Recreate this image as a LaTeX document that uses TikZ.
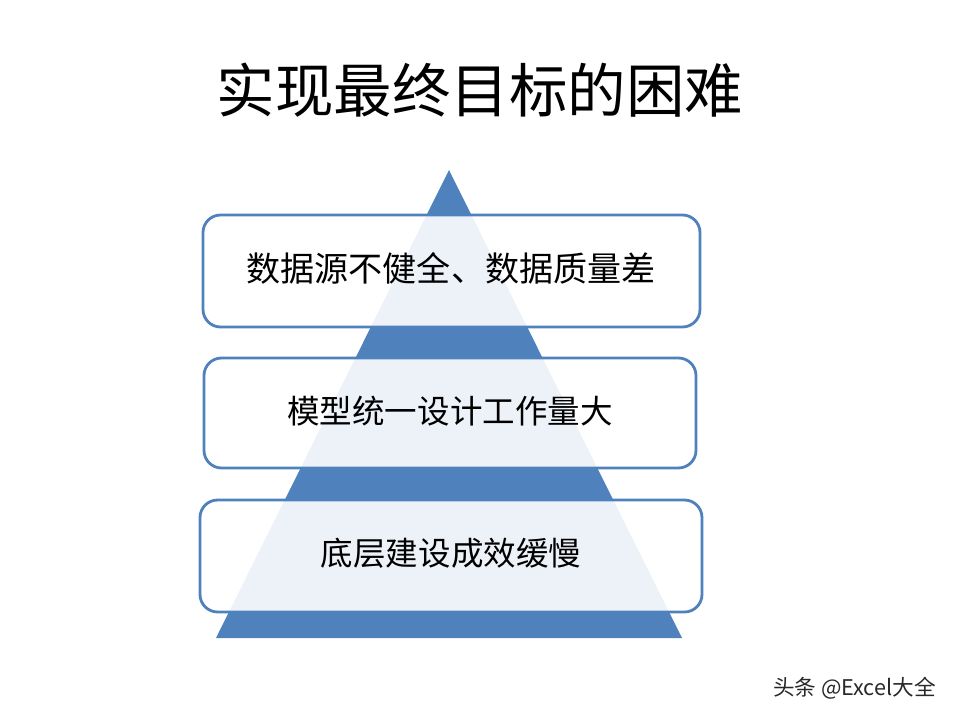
\documentclass[tikz,border=0pt]{standalone}
\usepackage{fontspec}
\newfontfamily\cjk{Noto Sans CJK SC}
\definecolor{pyblue}{RGB}{79,129,189}
\definecolor{wmgray}{RGB}{40,40,40}
\begin{document}
\begin{tikzpicture}[x=0.02cm,y=-0.02cm,
  layerbox/.style={draw=pyblue,line width=1.6pt,rounded corners=10pt,fill=white,fill opacity=0.9,text opacity=1},
  layertext/.style={font=\cjk\fontsize{18.5}{22}\selectfont,text=black}]
\useasboundingbox (0,0) rectangle (960,720);
\node[font=\cjk\fontsize{33.3}{38}\selectfont] (title) at (480,90) {实现最终目标的困难};
\coordinate (apex) at (449,170);
\coordinate (bl) at (216,638);
\coordinate (br) at (682,638);
\fill[pyblue] (apex) -- (br) -- (bl) -- cycle;
\draw[layerbox] (203,215) rectangle (700,327);
\draw[layerbox] (204,358) rectangle (696,468);
\draw[layerbox] (200,500) rectangle (702,612);
\node[layertext,font=\cjk\fontsize{19.4}{23}\selectfont] (t1) at (451,268) {数据源不健全、数据质量差};
\node[layertext] (t2) at (450,411) {模型统一设计工作量大};
\node[layertext] (t3) at (451,553) {底层建设成效缓慢};
\node[font=\cjk\fontsize{12.3}{14}\selectfont,text=wmgray,anchor=east] (wm) at (942,688) {头条 @Excel大全};
\end{tikzpicture}
\end{document}
